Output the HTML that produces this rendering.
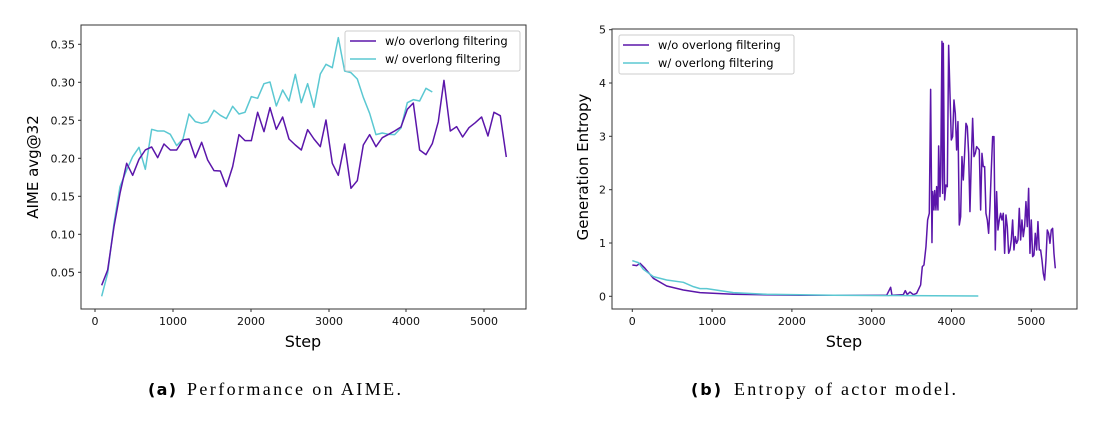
<!DOCTYPE html><html><head><style>body{margin:0;background:#fff}svg text{font-family:"DejaVu Sans","Liberation Sans",sans-serif}</style></head><body>
<svg width="1102" height="416" xmlns="http://www.w3.org/2000/svg">
<rect width="1102" height="416" fill="#fff"/>
<!-- left -->
<rect x="81" y="25" width="445" height="284" fill="none" stroke="#333" stroke-width="1"/>
<g font-size="11" fill="#111" text-anchor="end">
<g stroke="#333"><line x1="78" x2="81" y1="44.3" y2="44.3"/><line x1="78" x2="81" y1="82.3" y2="82.3"/><line x1="78" x2="81" y1="120.3" y2="120.3"/><line x1="78" x2="81" y1="158.3" y2="158.3"/><line x1="78" x2="81" y1="196.3" y2="196.3"/><line x1="78" x2="81" y1="234.3" y2="234.3"/><line x1="78" x2="81" y1="272.3" y2="272.3"/></g>
<text x="75" y="48.3">0.35</text><text x="75" y="86.3">0.30</text><text x="75" y="124.3">0.25</text><text x="75" y="162.3">0.20</text><text x="75" y="200.3">0.15</text><text x="75" y="238.3">0.10</text><text x="75" y="276.3">0.05</text>
</g>
<g font-size="11" fill="#111" text-anchor="middle" stroke="#333">
<line x1="95" x2="95" y1="309" y2="312"/><line x1="173" x2="173" y1="309" y2="312"/><line x1="251" x2="251" y1="309" y2="312"/><line x1="329" x2="329" y1="309" y2="312"/><line x1="406" x2="406" y1="309" y2="312"/><line x1="484" x2="484" y1="309" y2="312"/>
<g stroke="none"><text x="95" y="325">0</text><text x="173" y="325">1000</text><text x="251" y="325">2000</text><text x="329" y="325">3000</text><text x="406" y="325">4000</text><text x="484" y="325">5000</text></g>
</g>
<text x="303" y="347" font-size="16" text-anchor="middle">Step</text>
<text transform="translate(38,167) rotate(-90)" font-size="15" text-anchor="middle">AIME avg@32</text>
<g transform="translate(70,20) scale(0.3333)" fill="none" stroke-width="4.5" stroke-linejoin="round">
<polyline stroke="#5bc8d2" points="95,829 113,760 132,610 150,500 170,450 188,410 207,382 226,448 245,328 263,333 282,333 301,343 320,377 339,357 357,282 376,305 395,310 413,305 432,271 451,286 469,296 488,259 507,282 525,277 544,230 563,235 582,191 600,186 619,258 638,210 657,243 676,163 694,248 713,191 732,262 751,162 768,133 787,143 805,53 824,153 843,158 862,177 880,232 899,280 918,344 937,339 956,343 974,344 993,324 1012,248 1030,239 1049,243 1068,205 1087,216"/>
<polyline stroke="#5b16aa" points="95,796 113,750 132,620 150,520 170,430 188,466 207,418 226,390 245,381 263,413 282,372 301,390 320,390 339,360 357,357 376,413 395,367 413,420 432,452 451,453 469,500 488,440 507,344 525,362 544,362 563,277 582,335 600,263 619,328 638,291 657,357 676,375 694,390 713,329 732,357 751,380 768,300 787,430 805,466 824,372 843,505 862,482 880,375 899,344 918,380 937,353 956,343 974,333 993,321 1012,268 1030,249 1049,390 1068,404 1087,371 1105,305 1122,181 1141,333 1160,320 1178,351 1197,323 1216,308 1235,291 1254,348 1272,277 1291,287 1309,411"/>
</g>
<rect x="345" y="31" width="175" height="40" rx="2" fill="#fff" fill-opacity="0.85" stroke="#ccc"/>
<line x1="350" x2="376" y1="41" y2="41" stroke="#5b16aa" stroke-width="1.5"/><text x="385" y="45" font-size="11.5">w/o overlong filtering</text>
<line x1="350" x2="376" y1="59" y2="59" stroke="#5bc8d2" stroke-width="1.5"/><text x="385" y="63" font-size="11.5">w/ overlong filtering</text>
<!-- right -->
<rect x="612" y="29" width="465" height="280" fill="none" stroke="#333"/>
<g font-size="11" fill="#111" text-anchor="end">
<g stroke="#333"><line x1="609" x2="612" y1="296.3" y2="296.3"/><line x1="609" x2="612" y1="243" y2="243"/><line x1="609" x2="612" y1="189.7" y2="189.7"/><line x1="609" x2="612" y1="136.3" y2="136.3"/><line x1="609" x2="612" y1="83" y2="83"/><line x1="609" x2="612" y1="29.7" y2="29.7"/></g>
<text x="606" y="300.3">0</text><text x="606" y="247">1</text><text x="606" y="193.7">2</text><text x="606" y="140.3">3</text><text x="606" y="87">4</text><text x="606" y="33.7">5</text>
</g>
<g font-size="11" fill="#111" text-anchor="middle" stroke="#333">
<line x1="632.3" x2="632.3" y1="309" y2="312"/><line x1="712.1" x2="712.1" y1="309" y2="312"/><line x1="791.9" x2="791.9" y1="309" y2="312"/><line x1="871.7" x2="871.7" y1="309" y2="312"/><line x1="951.5" x2="951.5" y1="309" y2="312"/><line x1="1031.3" x2="1031.3" y1="309" y2="312"/>
<g stroke="none"><text x="632.3" y="325">0</text><text x="712.1" y="325">1000</text><text x="791.9" y="325">2000</text><text x="871.7" y="325">3000</text><text x="951.5" y="325">4000</text><text x="1031.3" y="325">5000</text></g>
</g>
<text x="844" y="347" font-size="16" text-anchor="middle">Step</text>
<text transform="translate(588,167) rotate(-90)" font-size="15" text-anchor="middle">Generation Entropy</text>
<g transform="translate(600,20) scale(0.3333)" fill="none" stroke-width="4.5" stroke-linejoin="round">
<polyline stroke="#5b16aa" points="97,735 110,737 120,730 135,745 160,775 200,798 250,810 300,818 400,823 600,826 860,826 872,802 876,826 910,824 916,812 922,824 930,816 940,824 950,820 962,795 967,740 972,735 978,680 983,600 988,580 992,208 996,668 998,515 1002,570 1004,512 1008,570 1010,500 1014,570 1016,378 1020,530 1022,470 1026,64 1028,520 1030,70 1034,540 1038,495 1042,500 1046,76 1050,220 1054,360 1058,350 1062,240 1066,280 1070,390 1074,305 1078,615 1082,590 1086,410 1090,480 1094,400 1098,310 1102,320 1106,400 1110,575 1114,420 1118,295 1122,410 1126,400 1130,380 1134,385 1138,390 1142,570 1146,400 1150,440 1154,440 1158,580 1162,600 1166,640 1170,560 1174,450 1178,350 1182,350 1186,690 1190,515 1194,630 1198,600 1202,580 1206,600 1210,580 1214,700 1218,585 1222,620 1226,700 1230,690 1234,660 1238,600 1242,690 1246,650 1250,670 1254,660 1258,565 1262,660 1266,600 1270,650 1274,620 1278,545 1282,620 1286,505 1290,700 1294,600 1298,710 1302,705 1306,640 1310,690 1314,605 1318,690 1322,690 1326,720 1330,760 1334,780 1338,720 1342,630 1346,640 1350,670 1354,630 1358,625 1362,700 1366,745"/>
<polyline stroke="#5bc8d2" points="97,722 115,728 130,748 160,770 200,780 250,787 280,800 300,806 320,806 360,812 400,818 500,823 700,826 1135,828"/>
</g>
<rect x="619" y="35" width="175" height="39" rx="2" fill="#fff" fill-opacity="0.85" stroke="#ccc"/>
<line x1="623" x2="649" y1="45" y2="45" stroke="#5b16aa" stroke-width="1.5"/><text x="658" y="49" font-size="11.5">w/o overlong filtering</text>
<line x1="623" x2="649" y1="63" y2="63" stroke="#5bc8d2" stroke-width="1.5"/><text x="658" y="67" font-size="11.5">w/ overlong filtering</text>
<!-- captions -->
<text x="148" y="395" font-size="16" font-weight="bold" textLength="28">(a)</text>
<text x="187" y="395" font-size="18" textLength="214" style="font-family:'Liberation Serif',serif">Performance on AIME.</text>
<text x="691" y="395" font-size="16" font-weight="bold" textLength="30">(b)</text>
<text x="734" y="395" font-size="18" textLength="222" style="font-family:'Liberation Serif',serif">Entropy of actor model.</text>
</svg>
</body></html>
